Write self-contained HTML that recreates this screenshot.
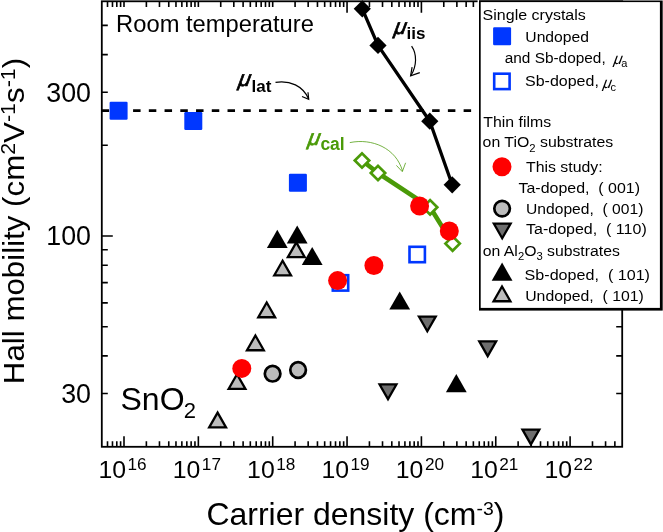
<!DOCTYPE html>
<html><head><meta charset="utf-8"><style>
html,body{margin:0;padding:0;background:#fff;width:663px;height:532px;overflow:hidden}
svg{display:block;will-change:transform}
text{white-space:pre}
</style></head><body>
<svg width="663" height="532" viewBox="0 0 663 532">
<path d="M107.51 446.80V441.30M107.51 1.30V7.10M112.48 446.80V441.30M112.48 1.30V7.10M116.79 446.80V441.30M116.79 1.30V7.10M120.60 446.80V441.30M120.60 1.30V7.10M124.00 446.80V436.30M124.00 1.30V7.10M146.38 446.80V441.30M146.38 1.30V7.10M159.47 446.80V441.30M159.47 1.30V7.10M168.76 446.80V441.30M168.76 1.30V7.10M175.97 446.80V441.30M175.97 1.30V7.10M181.86 446.80V441.30M181.86 1.30V7.10M186.83 446.80V441.30M186.83 1.30V7.10M191.14 446.80V441.30M191.14 1.30V7.10M194.95 446.80V441.30M194.95 1.30V7.10M198.35 446.80V436.30M198.35 1.30V7.10M220.73 446.80V441.30M220.73 1.30V7.10M233.82 446.80V441.30M233.82 1.30V7.10M243.11 446.80V441.30M243.11 1.30V7.10M250.32 446.80V441.30M250.32 1.30V7.10M256.21 446.80V441.30M256.21 1.30V7.10M261.18 446.80V441.30M261.18 1.30V7.10M265.49 446.80V441.30M265.49 1.30V7.10M269.30 446.80V441.30M269.30 1.30V7.10M272.70 446.80V436.30M272.70 1.30V7.10M295.08 446.80V441.30M295.08 1.30V7.10M308.17 446.80V441.30M308.17 1.30V7.10M317.46 446.80V441.30M317.46 1.30V7.10M324.67 446.80V441.30M324.67 1.30V7.10M330.56 446.80V441.30M330.56 1.30V7.10M335.53 446.80V441.30M335.53 1.30V7.10M339.84 446.80V441.30M339.84 1.30V7.10M343.65 446.80V441.30M343.65 1.30V7.10M347.05 446.80V436.30M347.05 1.30V12.80M369.43 446.80V441.30M369.43 1.30V7.10M382.52 446.80V441.30M382.52 1.30V7.10M391.81 446.80V441.30M391.81 1.30V7.10M399.02 446.80V441.30M399.02 1.30V7.10M404.91 446.80V441.30M404.91 1.30V7.10M409.88 446.80V441.30M409.88 1.30V7.10M414.19 446.80V441.30M414.19 1.30V7.10M418.00 446.80V441.30M418.00 1.30V7.10M421.40 446.80V436.30M421.40 1.30V12.80M443.78 446.80V441.30M443.78 1.30V7.10M456.87 446.80V441.30M456.87 1.30V7.10M466.16 446.80V441.30M466.16 1.30V7.10M473.37 446.80V441.30M473.37 1.30V7.10M479.26 446.80V441.30M484.23 446.80V441.30M488.54 446.80V441.30M492.35 446.80V441.30M495.75 446.80V436.30M518.13 446.80V441.30M531.22 446.80V441.30M540.51 446.80V441.30M547.72 446.80V441.30M553.61 446.80V441.30M558.58 446.80V441.30M562.89 446.80V441.30M566.70 446.80V441.30M570.10 446.80V436.30M592.48 446.80V441.30M605.57 446.80V441.30M614.86 446.80V441.30M101.80 393.54H107.80M622.20 393.54H616.20M101.80 355.90H107.80M622.20 355.90H616.20M101.80 326.70H107.80M622.20 326.70H616.20M101.80 302.84H107.80M622.20 302.84H616.20M101.80 282.67H107.80M622.20 282.67H616.20M101.80 265.20H107.80M622.20 265.20H616.20M101.80 249.79H107.80M622.20 249.79H616.20M101.80 236.00H112.80M622.20 236.00H611.20M101.80 145.30H107.80M622.20 145.30H616.20M101.80 92.24H107.80M622.20 92.24H616.20M101.80 54.60H107.80M622.20 54.60H616.20M101.80 25.40H107.80M622.20 25.40H616.20" stroke="#000" stroke-width="1.6" fill="none"/>
<rect x="101.80" y="1.30" width="520.40" height="445.50" fill="none" stroke="#000" stroke-width="1.8"/>
<path d="M101.6 110.7H471.5" stroke="#000" stroke-width="2.7" stroke-dasharray="7.5 8.24"/>
<polyline points="362.3,8.8 378,45.4 429.8,121.2 452.2,184.8" fill="none" stroke="#000" stroke-width="3.3" stroke-linejoin="round"/>
<path d="M353.7 8.8L362.3 0.20000000000000107L370.90000000000003 8.8L362.3 17.4Z" fill="#000"/>
<path d="M369.4 45.4L378 36.8L386.6 45.4L378 54.0Z" fill="#000"/>
<path d="M421.2 121.2L429.8 112.60000000000001L438.40000000000003 121.2L429.8 129.8Z" fill="#000"/>
<path d="M443.59999999999997 184.8L452.2 176.20000000000002L460.8 184.8L452.2 193.4Z" fill="#000"/>
<polyline points="362,160.5 378,173 430.1,207.3 452.6,243.6" fill="none" stroke="#4a9a08" stroke-width="4.6" stroke-linejoin="round"/>
<path d="M354.8 160.5L362 153.3L369.2 160.5L362 167.7Z" fill="#fff" stroke="#4a9a08" stroke-width="2.7"/>
<path d="M370.8 173L378 165.8L385.2 173L378 180.2Z" fill="#fff" stroke="#4a9a08" stroke-width="2.7"/>
<path d="M422.90000000000003 207.3L430.1 200.10000000000002L437.3 207.3L430.1 214.5Z" fill="#fff" stroke="#4a9a08" stroke-width="2.7"/>
<path d="M445.40000000000003 243.6L452.6 236.4L459.8 243.6L452.6 250.79999999999998Z" fill="#fff" stroke="#4a9a08" stroke-width="2.7"/>
<path d="M379.58 384.45L388.00 399.18L396.42 384.45Z" fill="#6e6e6e" stroke="#000" stroke-width="2.3" stroke-linejoin="miter"/>
<path d="M418.88 316.55L427.30 331.28L435.72 316.55Z" fill="#6e6e6e" stroke="#000" stroke-width="2.3" stroke-linejoin="miter"/>
<path d="M479.28 341.35L487.70 356.08L496.12 341.35Z" fill="#6e6e6e" stroke="#000" stroke-width="2.3" stroke-linejoin="miter"/>
<path d="M522.48 429.65L530.90 444.38L539.32 429.65Z" fill="#6e6e6e" stroke="#000" stroke-width="2.3" stroke-linejoin="miter"/>
<path d="M209.18 427.35L217.60 412.62L226.02 427.35Z" fill="#bcbcbc" stroke="#000" stroke-width="2.3" stroke-linejoin="miter"/>
<path d="M228.58 388.95L237.00 374.22L245.42 388.95Z" fill="#bcbcbc" stroke="#000" stroke-width="2.3" stroke-linejoin="miter"/>
<path d="M246.98 350.25L255.40 335.52L263.82 350.25Z" fill="#bcbcbc" stroke="#000" stroke-width="2.3" stroke-linejoin="miter"/>
<path d="M258.28 317.25L266.70 302.52L275.12 317.25Z" fill="#bcbcbc" stroke="#000" stroke-width="2.3" stroke-linejoin="miter"/>
<path d="M274.18 275.45L282.60 260.72L291.02 275.45Z" fill="#bcbcbc" stroke="#000" stroke-width="2.3" stroke-linejoin="miter"/>
<path d="M287.88 257.15L296.30 242.42L304.72 257.15Z" fill="#bcbcbc" stroke="#000" stroke-width="2.3" stroke-linejoin="miter"/>
<path d="M266.90 247.90L277.30 229.70L287.70 247.90Z" fill="#000"/>
<path d="M286.80 243.60L297.20 225.40L307.60 243.60Z" fill="#000"/>
<path d="M301.80 265.10L312.20 246.90L322.60 265.10Z" fill="#000"/>
<path d="M389.30 309.60L399.70 291.40L410.10 309.60Z" fill="#000"/>
<path d="M445.90 392.20L456.30 374.00L466.70 392.20Z" fill="#000"/>
<circle cx="272.6" cy="373.7" r="7.80" fill="#bcbcbc" stroke="#000" stroke-width="2.7"/>
<circle cx="298.1" cy="370" r="7.80" fill="#bcbcbc" stroke="#000" stroke-width="2.7"/>
<rect x="109.60" y="101.80" width="18" height="18" rx="1.2" fill="#0037ff"/>
<rect x="184.30" y="112.00" width="18" height="18" rx="1.2" fill="#0037ff"/>
<rect x="288.90" y="173.80" width="18" height="18" rx="1.2" fill="#0037ff"/>
<rect x="332.80" y="275.20" width="15.4" height="15.4" fill="#fff" stroke="#0037ff" stroke-width="2.6"/>
<rect x="409.50" y="246.80" width="15.4" height="15.4" fill="#fff" stroke="#0037ff" stroke-width="2.6"/>
<circle cx="241.8" cy="368.4" r="9.50" fill="#ff0000"/>
<circle cx="337.6" cy="280.6" r="9.50" fill="#ff0000"/>
<circle cx="373.9" cy="265.5" r="9.50" fill="#ff0000"/>
<circle cx="419.6" cy="206" r="9.50" fill="#ff0000"/>
<circle cx="449.3" cy="231" r="9.50" fill="#ff0000"/>
<text transform="translate(116.1 32) scale(1.01 1)" font-family="'Liberation Sans', sans-serif" font-size="23.5">Room temperature</text>
<text x="120.5" y="409.5" font-family="'Liberation Sans', sans-serif" font-size="32">SnO<tspan x="183.8" y="418" font-size="22">2</tspan></text>
<g transform="translate(237.76 85.73) skewX(-10)"><text font-family="'Liberation Sans', sans-serif" font-size="22" font-style="italic" fill="#000" stroke="#000" stroke-width="0.7">μ</text></g>
<text x="251.6" y="92" font-family="'Liberation Sans', sans-serif" font-size="17" font-weight="bold">lat</text>
<path d="M275.5 82.3C290 80 303 86 308.7 99" fill="none" stroke="#000" stroke-width="1.2"/>
<path d="M302 96.5L308.7 99.4L308 92.2" fill="none" stroke="#000" stroke-width="1.2"/>
<g transform="translate(393.46 33.53) skewX(-10)"><text font-family="'Liberation Sans', sans-serif" font-size="22" font-style="italic" fill="#000" stroke="#000" stroke-width="0.7">μ</text></g>
<text x="406.6" y="39.4" font-family="'Liberation Sans', sans-serif" font-size="17" font-weight="bold">iis</text>
<path d="M411.6 46.2C417 54 417 66 410.8 75.8" fill="none" stroke="#000" stroke-width="1.2"/>
<path d="M412.1 67.2L410.6 75.9L419.8 72.6" fill="none" stroke="#000" stroke-width="1.2"/>
<g transform="translate(307.16 145.03) skewX(-10)"><text font-family="'Liberation Sans', sans-serif" font-size="22" font-style="italic" fill="#4a9a08" stroke="#4a9a08" stroke-width="0.7">μ</text></g>
<text x="320.4" y="150.3" font-family="'Liberation Sans', sans-serif" font-size="17.5" font-weight="bold" fill="#4a9a08">cal</text>
<path d="M349.8 142.6C372 138 396 148 402.5 171" fill="none" stroke="#4a9a08" stroke-width="1" opacity="0.75"/>
<path d="M396.4 165.4L402.3 171.7L405.6 162.8" fill="none" stroke="#4a9a08" stroke-width="1" opacity="0.75"/>
<text x="91" y="101.5" font-family="'Liberation Sans', sans-serif" font-size="26.8" text-anchor="end">300</text>
<text x="91" y="244.7" font-family="'Liberation Sans', sans-serif" font-size="26.8" text-anchor="end">100</text>
<text x="91" y="403.4" font-family="'Liberation Sans', sans-serif" font-size="26.8" text-anchor="end">30</text>
<text x="98.40" y="478.3" font-family="'Liberation Sans', sans-serif" font-size="24.8">10<tspan x="127.50" y="470.3" font-size="17.2">16</tspan></text>
<text x="172.75" y="478.3" font-family="'Liberation Sans', sans-serif" font-size="24.8">10<tspan x="201.85" y="470.3" font-size="17.2">17</tspan></text>
<text x="247.10" y="478.3" font-family="'Liberation Sans', sans-serif" font-size="24.8">10<tspan x="276.20" y="470.3" font-size="17.2">18</tspan></text>
<text x="321.45" y="478.3" font-family="'Liberation Sans', sans-serif" font-size="24.8">10<tspan x="350.55" y="470.3" font-size="17.2">19</tspan></text>
<text x="395.80" y="478.3" font-family="'Liberation Sans', sans-serif" font-size="24.8">10<tspan x="424.90" y="470.3" font-size="17.2">20</tspan></text>
<text x="470.15" y="478.3" font-family="'Liberation Sans', sans-serif" font-size="24.8">10<tspan x="499.25" y="470.3" font-size="17.2">21</tspan></text>
<text x="544.50" y="478.3" font-family="'Liberation Sans', sans-serif" font-size="24.8">10<tspan x="573.60" y="470.3" font-size="17.2">22</tspan></text>
<text transform="translate(206.4 524.8) scale(1.012 1)" font-family="'Liberation Sans', sans-serif" font-size="31.6">Carrier density (cm<tspan dy="-9.7" font-size="19.2">-3</tspan><tspan dy="9.7">)</tspan></text>
<text transform="translate(24.4 382.1) rotate(-90) scale(1.043 1)" x="-2" y="0" font-family="'Liberation Sans', sans-serif" font-size="30">Hall mobility (cm<tspan dy="-9.6" font-size="20.5">2</tspan><tspan dy="9.6">V</tspan><tspan dy="-9.6" font-size="20.5">-1</tspan><tspan dy="9.6">s</tspan><tspan dy="-9.6" font-size="20.5">-1</tspan><tspan dy="9.6">)</tspan></text>
<rect x="477.6" y="0" width="1.5" height="312" fill="#fff"/>
<rect x="479" y="0.5" width="183.7" height="310.1" fill="#000"/>
<rect x="480.7" y="2.1" width="179.2" height="305.8" fill="#fff"/>
<text transform="translate(482.6 20.3) scale(1.04 1)" font-family="'Liberation Sans', sans-serif" font-size="15.4" xml:space="preserve">Single crystals</text>
<rect x="493.10" y="27.30" width="18" height="18" rx="1.2" fill="#0037ff"/>
<text transform="translate(525.3 41.5) scale(1.02 1)" font-family="'Liberation Sans', sans-serif" font-size="15.4" xml:space="preserve">Undoped</text>
<text x="504.7" y="62.5" font-family="'Liberation Sans', sans-serif" font-size="15.4" xml:space="preserve">and Sb-doped,</text>
<g transform="translate(613.27 64.36) skewX(-10)"><text font-family="'Liberation Sans', sans-serif" font-size="15.5" font-style="italic" fill="#000" stroke="#000" stroke-width="0.0">μ</text></g>
<text x="621.2" y="67" font-family="'Liberation Sans', sans-serif" font-size="11">a</text>
<rect x="494.20" y="73.70" width="15.4" height="15.4" fill="#fff" stroke="#0037ff" stroke-width="2.6"/>
<text transform="translate(525 86) scale(1.04 1)" font-family="'Liberation Sans', sans-serif" font-size="15.4" xml:space="preserve">Sb-doped,</text>
<g transform="translate(602.47 87.96) skewX(-10)"><text font-family="'Liberation Sans', sans-serif" font-size="15.5" font-style="italic" fill="#000" stroke="#000" stroke-width="0.0">μ</text></g>
<text x="610.4" y="90.5" font-family="'Liberation Sans', sans-serif" font-size="11">c</text>
<text transform="translate(483.3 126.5) scale(1.03 1)" font-family="'Liberation Sans', sans-serif" font-size="15.4" xml:space="preserve">Thin films</text>
<text transform="translate(482.6 147.3) scale(1.03 1)" font-family="'Liberation Sans', sans-serif" font-size="15.4" xml:space="preserve">on TiO<tspan font-size="11" dy="4.5">2</tspan><tspan dy="-4.5"> substrates</tspan></text>
<circle cx="502" cy="166.8" r="9.50" fill="#ff0000"/>
<text transform="translate(526 172.3) scale(1.03 1)" font-family="'Liberation Sans', sans-serif" font-size="15.4" xml:space="preserve">This study:</text>
<text transform="translate(518.5 193.3) scale(1.037 1)" font-family="'Liberation Sans', sans-serif" font-size="15.4" xml:space="preserve">Ta-doped,  ( 001)</text>
<circle cx="502.1" cy="208.6" r="7.80" fill="#bcbcbc" stroke="#000" stroke-width="2.7"/>
<text transform="translate(526 213.7) scale(1.016 1)" font-family="'Liberation Sans', sans-serif" font-size="15.4" xml:space="preserve">Undoped,  ( 001)</text>
<path d="M493.78 223.55L502.20 238.28L510.62 223.55Z" fill="#6e6e6e" stroke="#000" stroke-width="2.3" stroke-linejoin="miter"/>
<text transform="translate(526 234.3) scale(1.04 1)" font-family="'Liberation Sans', sans-serif" font-size="15.4" xml:space="preserve">Ta-doped,  ( 110)</text>
<text transform="translate(482.8 255.5) scale(1.025 1)" font-family="'Liberation Sans', sans-serif" font-size="15.4" xml:space="preserve">on Al<tspan font-size="11" dy="4.5">2</tspan><tspan dy="-4.5">O</tspan><tspan font-size="11" dy="4.5">3</tspan><tspan dy="-4.5"> substrates</tspan></text>
<path d="M491.70 280.80L502.10 262.60L512.50 280.80Z" fill="#000"/>
<text transform="translate(524.6 280.2) scale(1.047 1)" font-family="'Liberation Sans', sans-serif" font-size="15.4" xml:space="preserve">Sb-doped,  ( 101)</text>
<path d="M493.58 301.25L502.00 286.52L510.42 301.25Z" fill="#bcbcbc" stroke="#000" stroke-width="2.3" stroke-linejoin="miter"/>
<text transform="translate(525.2 301.1) scale(1.027 1)" font-family="'Liberation Sans', sans-serif" font-size="15.4" xml:space="preserve">Undoped,  ( 101)</text>
</svg>
</body></html>
